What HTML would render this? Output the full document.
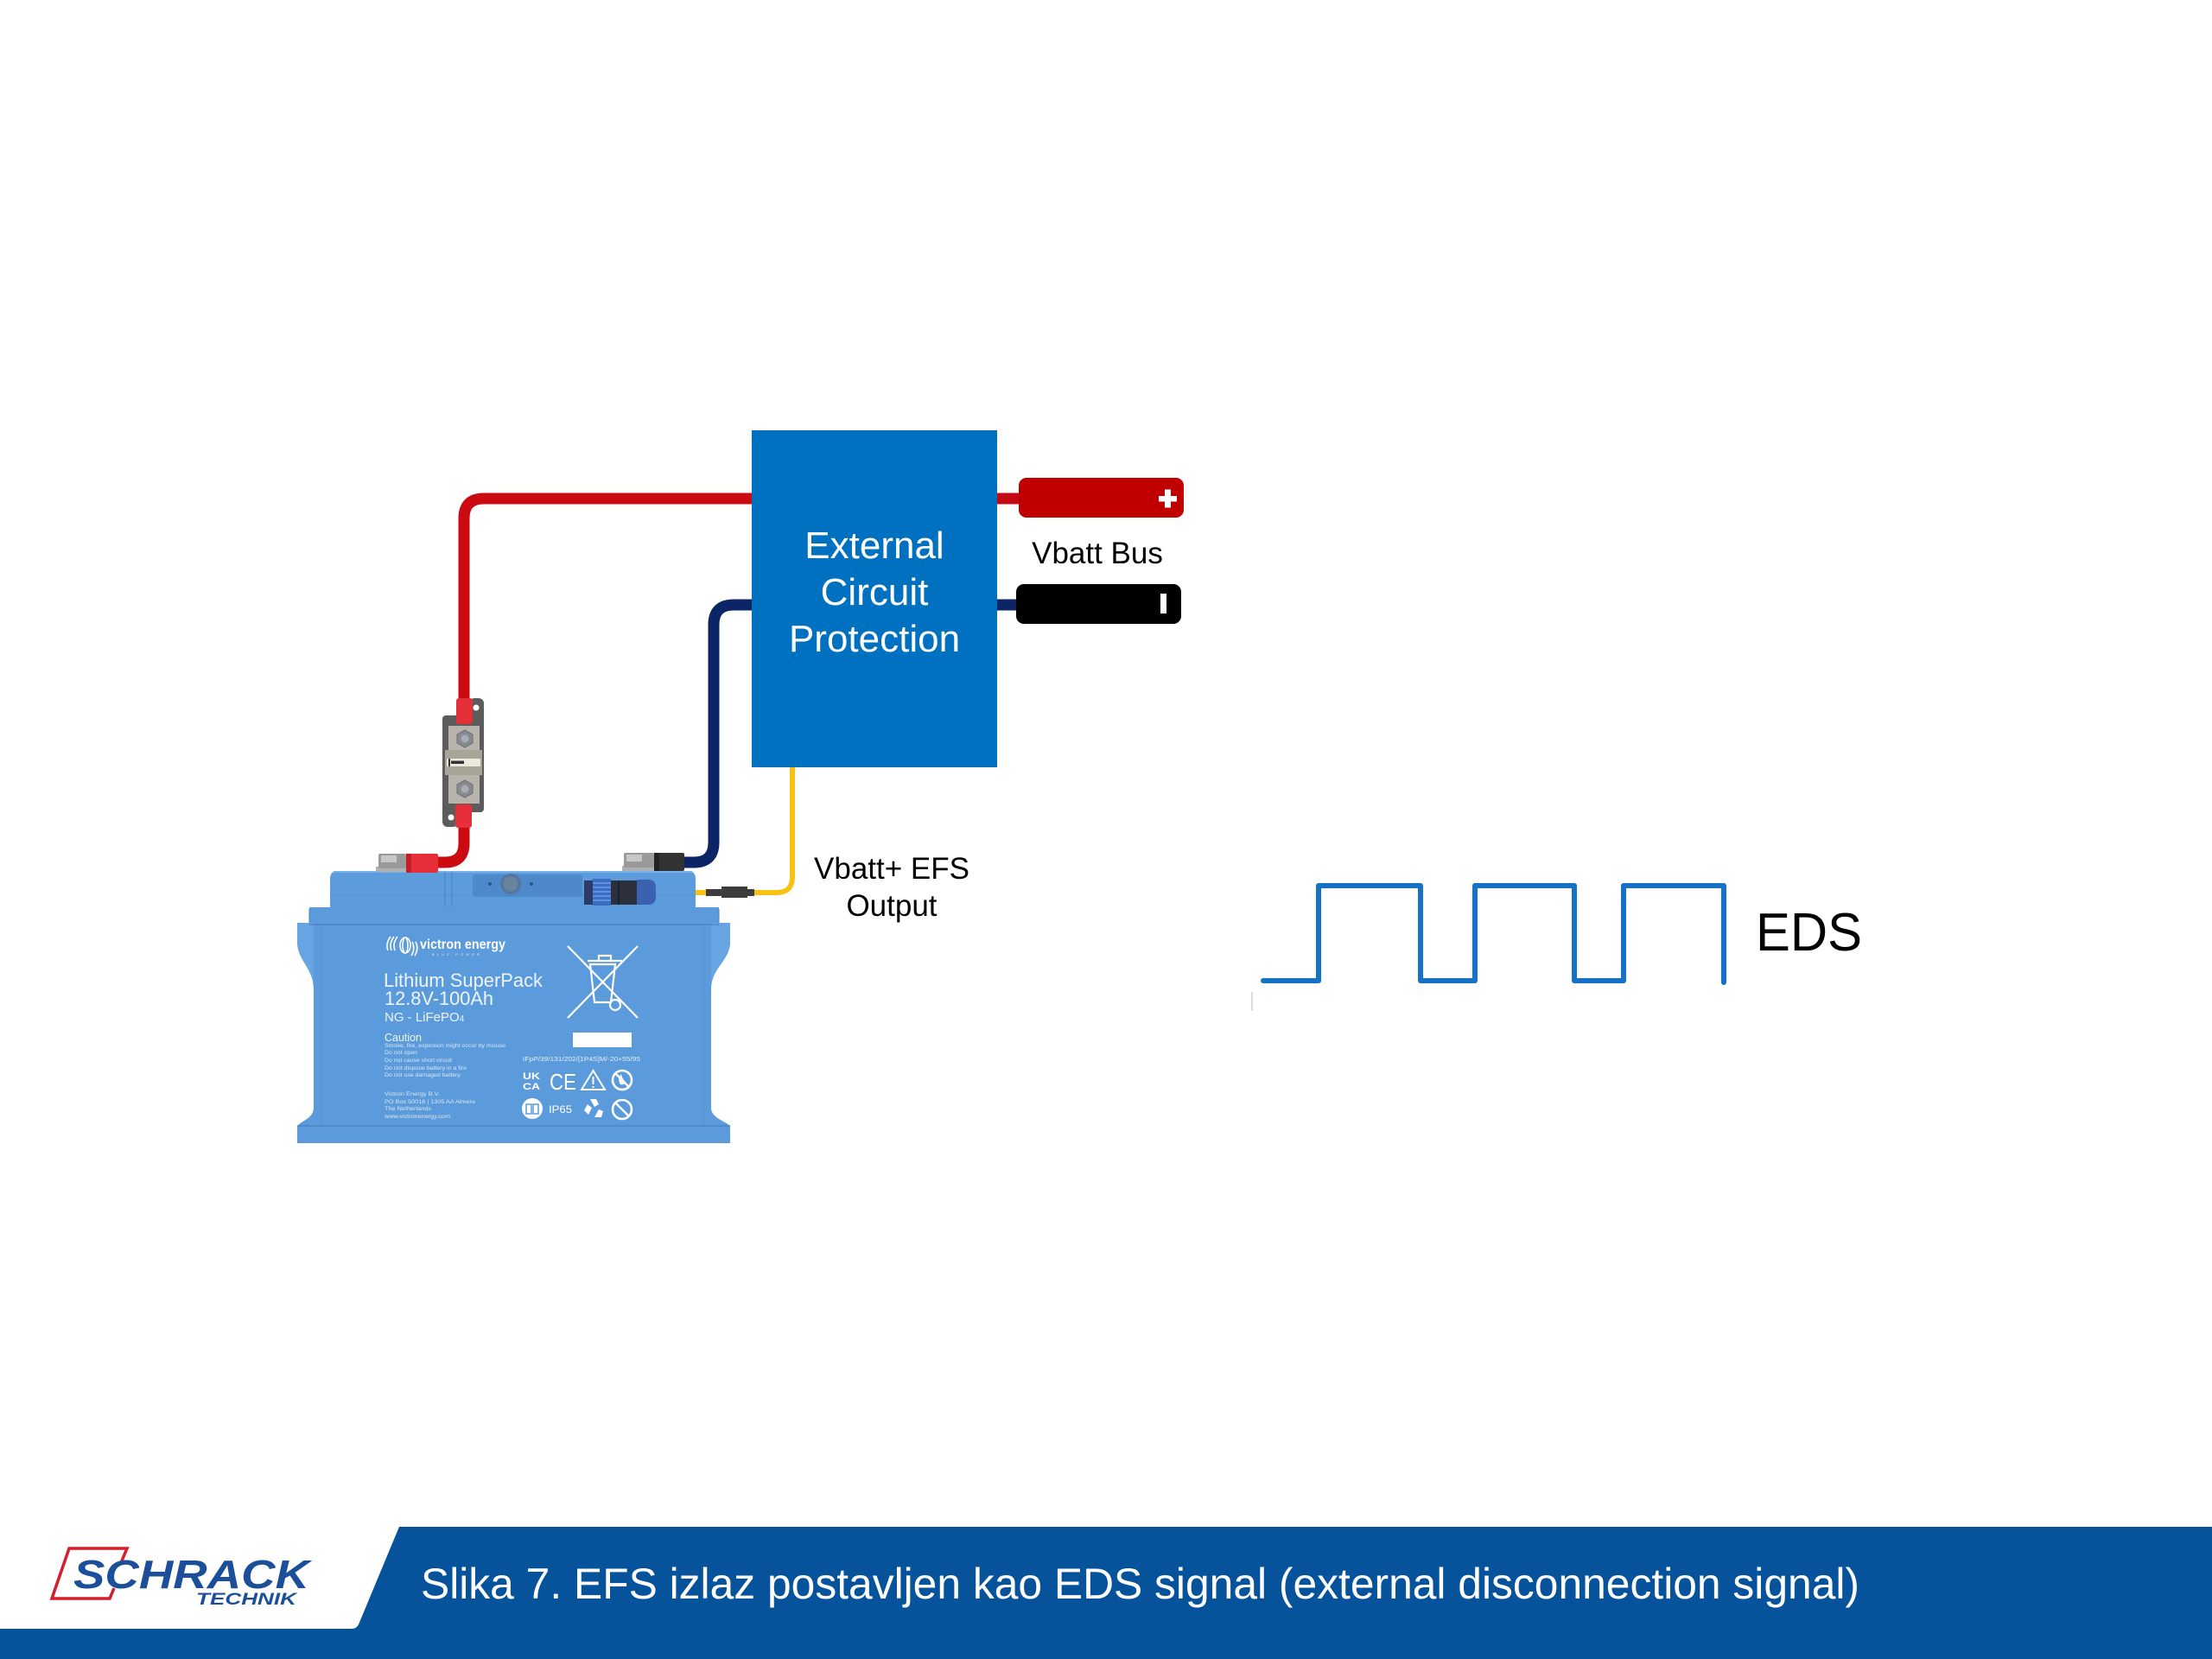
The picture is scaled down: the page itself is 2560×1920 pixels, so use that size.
<!DOCTYPE html>
<html><head><meta charset="utf-8"><style>
html,body{margin:0;padding:0;background:#fff;}
svg{display:block;}
text{font-family:"Liberation Sans",Arial,sans-serif;}
</style></head><body>
<svg width="2560" height="1920" viewBox="0 0 2560 1920" xmlns="http://www.w3.org/2000/svg">
<rect width="2560" height="1920" fill="#fff"/>

<!-- ===== WIRES ===== -->
<path d="M870 577 H560 Q537 577 537 600 V812" fill="none" stroke="#cc0a12" stroke-width="13"/>
<path d="M537 952 V976 Q537 998 515 998 H500" fill="none" stroke="#cc0a12" stroke-width="13"/>
<path d="M870 700 H849 Q826 700 826 723 V975 Q826 998 803 998 H788" fill="none" stroke="#0b2566" stroke-width="13"/>
<path d="M917 886 V1015 Q917 1033 899 1033 H756" fill="none" stroke="#f7c214" stroke-width="6"/>
<path d="M1150 577 H1185" stroke="#c40a12" stroke-width="13"/>
<path d="M1150 700 H1180" stroke="#0b2566" stroke-width="13"/>

<!-- ===== EXTERNAL CIRCUIT PROTECTION BOX ===== -->
<rect x="870" y="498" width="284" height="390" fill="#0070c0"/>
<g fill="#fff" font-size="44" text-anchor="middle">
<text x="1012" y="646">External</text>
<text x="1012" y="700">Circuit</text>
<text x="1012" y="754">Protection</text>
</g>

<!-- ===== BUS TERMINALS ===== -->
<rect x="1179" y="553" width="191" height="46" rx="9" fill="#c00000"/>
<rect x="1341" y="574" width="21" height="6.5" fill="#fff"/>
<rect x="1348" y="566.5" width="7" height="21" fill="#fff"/>
<text x="1270" y="652" font-size="35" text-anchor="middle" fill="#000">Vbatt Bus</text>
<rect x="1176" y="676" width="191" height="46" rx="9" fill="#000"/>
<rect x="1343" y="687" width="7" height="23" fill="#fff"/>

<!-- ===== EFS label ===== -->
<g font-size="35" text-anchor="middle" fill="#000">
<text x="1032" y="1017">Vbatt+ EFS</text>
<text x="1032" y="1060">Output</text>
</g>

<!-- ===== FUSE ===== -->
<g>
<rect x="543" y="808" width="17" height="30" rx="6" fill="#5c5c5c"/>
<rect x="512" y="928" width="18" height="29" rx="6" fill="#5c5c5c"/>
<rect x="512" y="828" width="48" height="112" rx="4" fill="#5c5c5c"/>
<circle cx="551" cy="819" r="3.5" fill="#fff"/>
<circle cx="522" cy="946" r="3.5" fill="#fff"/>
<rect x="519" y="840" width="36" height="90" fill="#b8b4ab"/>
<rect x="515" y="868" width="43" height="29" fill="#a9a498"/>
<rect x="517" y="878" width="39" height="9" fill="#ece8de"/>
<rect x="522" y="880.5" width="15" height="3.5" fill="#333"/>
<rect x="519" y="878" width="2" height="9" fill="#333"/>
<polygon points="538,845 547,850 547,860 538,865 529,860 529,850" fill="#878a90" stroke="#6a6d72" stroke-width="1"/>
<circle cx="538" cy="855" r="4.5" fill="#a9acb1"/>
<polygon points="538,903 547,908 547,918 538,923 529,918 529,908" fill="#878a90" stroke="#6a6d72" stroke-width="1"/>
<circle cx="538" cy="913" r="4.5" fill="#a9acb1"/>
<rect x="528" y="808" width="19" height="30" rx="3" fill="#e5303a"/>
<rect x="527" y="931" width="19" height="27" rx="3" fill="#e5303a"/>
</g>

<!-- ===== BATTERY ===== -->
<g>
<!-- lid -->
<path d="M382 1052 V1017 Q382 1008 391 1008 H796 Q805 1008 805 1017 V1052 Z" fill="#5c9cdc"/>
<path d="M386 1009 H801" stroke="#78b2ea" stroke-width="2"/>
<path d="M382 1036 H805" stroke="#5390d2" stroke-width="1"/>
<path d="M515 1009 V1050 M523 1009 V1050" stroke="#4f8ccc" stroke-width="1.5"/>
<rect x="547" y="1012" width="127" height="26" rx="3" fill="#4d89cb"/>
<circle cx="591" cy="1023" r="12" fill="#55759e"/>
<circle cx="591" cy="1023" r="8.5" fill="#67849f"/>
<circle cx="567" cy="1023" r="2" fill="#2e5680"/>
<circle cx="615" cy="1023" r="2" fill="#2e5680"/>
<!-- body -->
<path d="M358 1050 H832 V1068 H845 V1090 C845 1112 823 1120 823 1145 V1282 C823 1296 845 1298 845 1305 V1323 H344 V1305 C344 1298 363 1296 363 1282 V1145 C363 1120 344 1112 344 1090 V1068 H358 Z" fill="#5b9bdb"/>
<path d="M344 1068 H363 V1140 C360 1118 344 1110 344 1090 Z" fill="#66a5e2"/>
<path d="M845 1068 H823 V1140 C826 1118 845 1110 845 1090 Z" fill="#66a5e2"/>
<path d="M358 1070 H832" stroke="#4a86c8" stroke-width="1.5"/>
<path d="M344 1303 H845" stroke="#4a86c8" stroke-width="1.5"/>
<path d="M372 1072 V1302 M814 1072 V1302" stroke="#5190d3" stroke-width="1"/>
<path d="M358 1052 V1068 M832 1052 V1068" stroke="#4a86c8" stroke-width="1"/>
<!-- terminals -->
<rect x="435" y="1003" width="38" height="6" fill="#b0b0b0"/>
<rect x="438" y="988" width="32" height="17" rx="2" fill="#9a9a9a"/>
<rect x="441" y="990" width="18" height="8" fill="#c8c8c8"/>
<rect x="470" y="988" width="37" height="22" rx="2" fill="#e62e38"/>
<rect x="470" y="988" width="6" height="22" fill="#c41f28"/>
<rect x="720" y="1002" width="38" height="6" fill="#b0b0b0"/>
<rect x="722" y="987" width="35" height="17" rx="2" fill="#9a9a9a"/>
<rect x="725" y="989" width="18" height="8" fill="#c8c8c8"/>
<rect x="757" y="987" width="35" height="21" rx="2" fill="#333"/>
<rect x="757" y="987" width="6" height="21" fill="#222"/>
<!-- EFS connector -->
<rect x="676" y="1019" width="10" height="28" fill="#2b3a66"/>
<rect x="686" y="1017" width="21" height="31" fill="#3b6fc4"/>
<path d="M686 1022 H707 M686 1027 H707 M686 1032 H707 M686 1037 H707 M686 1042 H707" stroke="#6b9be6" stroke-width="1.5"/>
<rect x="707" y="1019" width="30" height="28" fill="#2c2f3c"/>
<path d="M716 1019 V1047" stroke="#1a1c25" stroke-width="1.5"/>
<path d="M737 1018 H750 Q759 1018 759 1027 V1038 Q759 1047 750 1047 H737 Z" fill="#3a62b0"/>
<!-- inline fuse holder -->
<path d="M817 1029 H835 V1026 H865 V1029 H873 V1037 H865 V1039 H835 V1037 H817 Z" fill="#3c3c3c"/>

<!-- label: victron logo -->
<g fill="none" stroke="#fff" stroke-width="1.6">
<path d="M452 1084 Q446 1092 449 1100"/>
<path d="M456 1084 Q450 1092 453 1100"/>
<path d="M460 1084 Q454 1092 457 1100"/>
<ellipse cx="469" cy="1094" rx="6" ry="9"/>
<ellipse cx="469" cy="1094" rx="3" ry="9"/>
<path d="M477 1090 Q481 1098 476 1106"/>
<path d="M481 1090 Q485 1098 480 1106"/>
</g>
<text x="486" y="1098" font-size="16" font-weight="bold" fill="#fff" textLength="99" lengthAdjust="spacingAndGlyphs">victron energy</text>
<text x="500" y="1106" font-size="4" fill="#dbe7f5" textLength="55" lengthAdjust="spacing">BLUE POWER</text>

<g fill="#eef4fb">
<text x="444" y="1142" font-size="22" textLength="184" lengthAdjust="spacingAndGlyphs">Lithium SuperPack</text>
<text x="445" y="1163" font-size="22" textLength="126" lengthAdjust="spacingAndGlyphs">12.8V-100Ah</text>
<text x="445" y="1182" font-size="15">NG - LiFePO<tspan font-size="10">4</tspan></text>
<text x="445" y="1205" font-size="13" textLength="43" lengthAdjust="spacingAndGlyphs">Caution</text>
</g>
<g fill="#d9e6f5" font-size="6.5">
<text x="445" y="1212" textLength="140" lengthAdjust="spacingAndGlyphs">Smoke, fire, explosion might occur by misuse</text>
<text x="445" y="1220" textLength="38" lengthAdjust="spacingAndGlyphs">Do not open</text>
<text x="445" y="1229" textLength="78" lengthAdjust="spacingAndGlyphs">Do not cause short circuit</text>
<text x="445" y="1238" textLength="95" lengthAdjust="spacingAndGlyphs">Do not dispose battery in a fire</text>
<text x="445" y="1246" textLength="88" lengthAdjust="spacingAndGlyphs">Do not use damaged battery</text>
<text x="445" y="1268" textLength="64" lengthAdjust="spacingAndGlyphs">Victron Energy B.V.</text>
<text x="445" y="1277" textLength="105" lengthAdjust="spacingAndGlyphs">PO Box 50016 | 1305 AA Almere</text>
<text x="445" y="1285" textLength="54" lengthAdjust="spacingAndGlyphs">The Netherlands</text>
<text x="445" y="1294" textLength="76" lengthAdjust="spacingAndGlyphs">www.victronenergy.com</text>
</g>

<!-- WEEE crossed bin -->
<g fill="none" stroke="#fff" stroke-width="2.2">
<path d="M657 1095 L738 1178 M738 1095 L657 1178"/>
<path d="M680 1112 H720"/>
<path d="M693 1112 V1106 H707 V1112"/>
<path d="M683 1116 L688 1160 H707 L712 1116 Z"/>
<circle cx="712" cy="1163" r="6"/>
</g>
<rect x="663" y="1195" width="68" height="17" fill="#fff"/>
<text x="605" y="1228" font-size="7.5" fill="#e3edf8" textLength="136" lengthAdjust="spacingAndGlyphs">IFpP/39/131/202/[1P4S]M/-20+55/95</text>

<!-- icons -->
<g fill="#fff">
<text x="605" y="1249" font-size="11" font-weight="bold" textLength="20" lengthAdjust="spacingAndGlyphs">UK</text>
<text x="605" y="1261" font-size="11" font-weight="bold" textLength="20" lengthAdjust="spacingAndGlyphs">CA</text>
<text x="636" y="1261" font-size="26" textLength="31" lengthAdjust="spacingAndGlyphs">CE</text>
<text x="635" y="1288" font-size="12" textLength="27" lengthAdjust="spacingAndGlyphs">IP65</text>
</g>
<g fill="none" stroke="#fff" stroke-width="2">
<polygon points="686.5,1239 700,1261 673,1261"/>
<path d="M686.5 1246 V1255 M686.5 1257 V1259"/>
<circle cx="720" cy="1250" r="11" stroke-width="2.6"/>
<path d="M712 1242 L728 1258" stroke-width="2.4"/>
<circle cx="720" cy="1284" r="11" stroke-width="2.6"/>
<path d="M712 1276 L728 1292" stroke-width="2.4"/>
</g>
<path d="M718 1255 Q714 1249 719 1243 Q720 1249 724 1252 Q723 1256 718 1255 Z" fill="#fff"/>
<circle cx="616" cy="1283" r="12" fill="#fff"/>
<path d="M609 1278 H615 V1289 H609 Z M617 1278 H623 V1289 H617 Z" fill="none" stroke="#5b9bdb" stroke-width="1.5"/>
<g fill="#fff">
<path d="M683 1272 L690 1272 L693 1278 L688 1281 Z"/>
<path d="M676 1285 L680 1278 L685 1282 L681 1290 Z"/>
<path d="M688 1293 L696 1293 L698 1286 L693 1284 Z"/>
</g>

</g>

<!-- ===== EDS WAVE ===== -->
<path d="M1462 1135 H1526 V1025 H1644 V1135 H1707 V1025 H1822 V1135 H1879 V1025 H1995 V1137" fill="none" stroke="#1672c4" stroke-width="6" stroke-linejoin="round" stroke-linecap="round"/>
<path d="M1449 1148 V1170" stroke="#cfcfcf" stroke-width="1.5"/>
<text x="2032" y="1100" font-size="62" fill="#000" textLength="123" lengthAdjust="spacingAndGlyphs">EDS</text>

<!-- ===== FOOTER ===== -->
<rect x="0" y="1767" width="2560" height="153" fill="#06539b"/>
<path d="M0 1767 H462 L415 1880 Q413 1885 406 1885 H0 Z" fill="#fff"/>
<path d="M139 1811 L147 1792 L80 1792 L60 1850 L127 1850 L132 1838" fill="none" stroke="#d41f2b" stroke-width="3.5"/>
<text x="85" y="1838" font-size="46" font-weight="bold" font-style="italic" fill="#1c4f9a" textLength="273" lengthAdjust="spacingAndGlyphs">SCHRACK</text>
<text x="227" y="1857" font-size="19" font-weight="bold" font-style="italic" fill="#1c4f9a" textLength="116" lengthAdjust="spacingAndGlyphs">TECHNIK</text>
<text x="487" y="1850" font-size="50" fill="#fff" textLength="1665" lengthAdjust="spacingAndGlyphs">Slika 7. EFS izlaz postavljen kao EDS signal (external disconnection signal)</text>
</svg>
</body></html>
